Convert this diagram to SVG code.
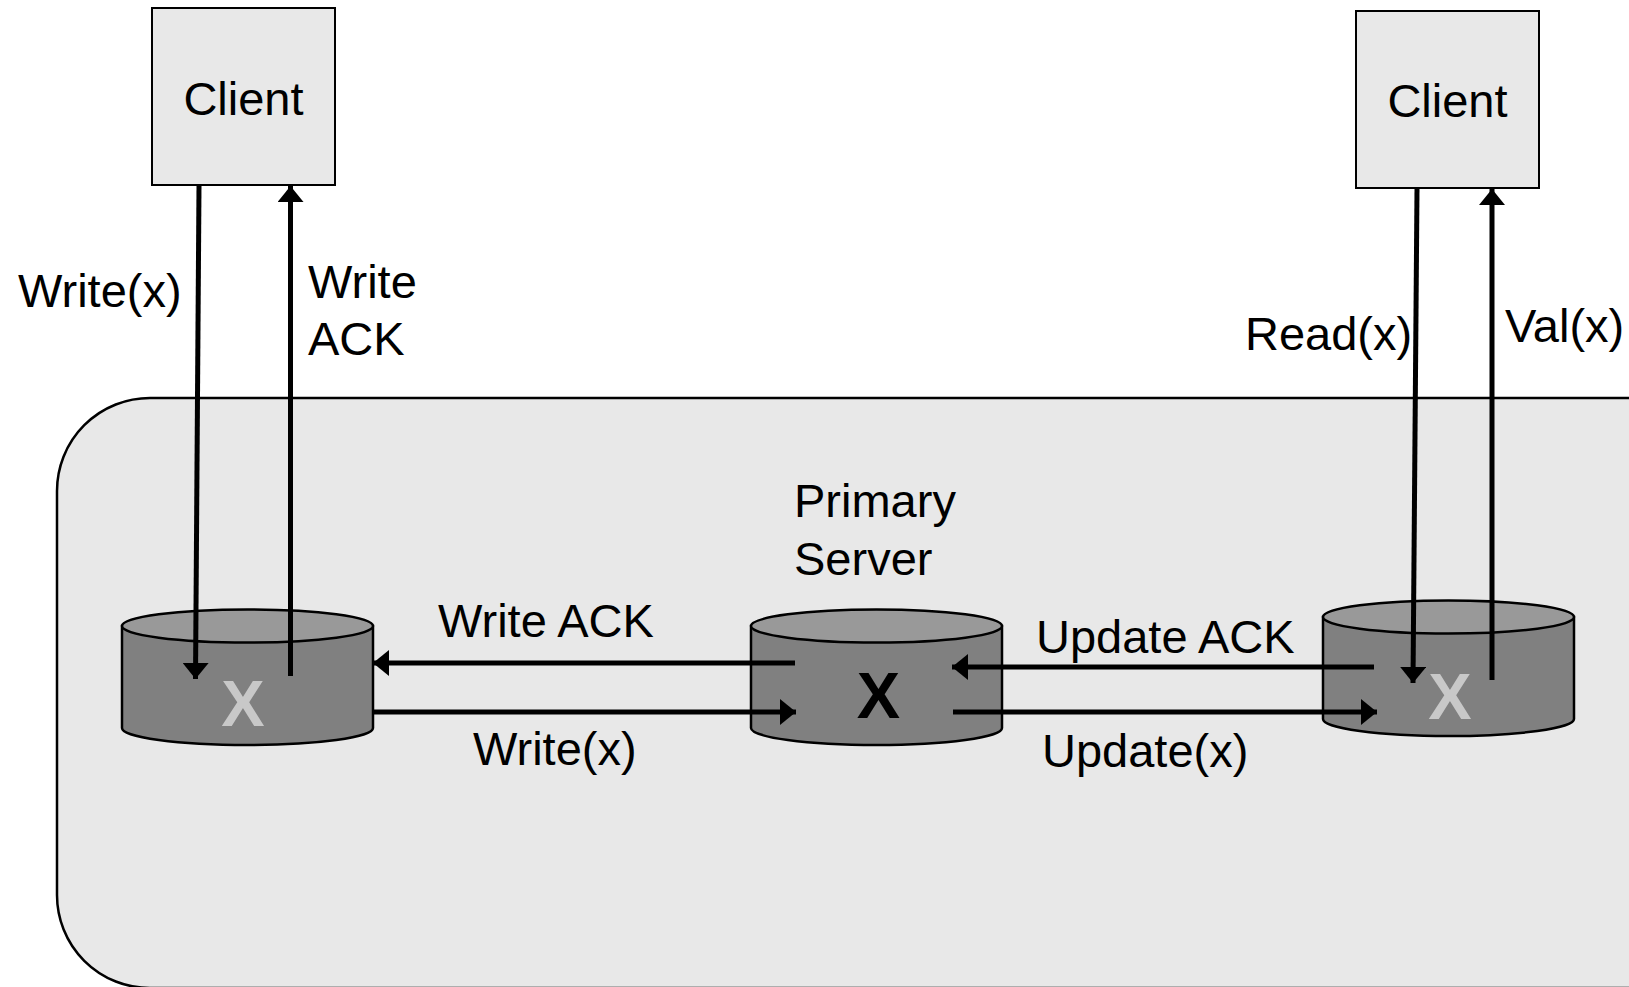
<svg xmlns="http://www.w3.org/2000/svg" width="1629" height="987" viewBox="0 0 1629 987">
  <style>
    .lbl { font-family: "Liberation Sans", Arial, sans-serif; font-size: 47px; fill: #000; }
    .client rect { fill: #e8e8e8; stroke: #000; stroke-width: 2; }
    .body { fill: #808080; stroke: #000; stroke-width: 2.5; }
    .lid { fill: #999999; stroke: #000; stroke-width: 2.5; }
    .val { font-family: "Liberation Sans", Arial, sans-serif; font-weight: bold; font-size: 65px; text-anchor: middle; }
    .conn line { stroke: #000; stroke-width: 5; }
  </style>
  <defs>
    <marker id="head" viewBox="0 0 16 26" refX="16" refY="13" markerWidth="16" markerHeight="26" markerUnits="userSpaceOnUse" orient="auto">
      <path d="M0,0 L16,13 L0,26 Z" fill="#000"/>
    </marker>
  </defs>

  <rect width="1629" height="987" fill="#fff"/>

  <!-- replica group container -->
  <g id="cluster">
    <rect x="57" y="398" width="1680" height="590" rx="93" ry="93" fill="#e8e8e8" stroke="#000" stroke-width="2.5"/>
  </g>

  <!-- clients -->
  <g id="client-left" class="client">
    <rect x="152" y="8" width="183" height="177"/>
    <text class="lbl" x="243.5" y="115" text-anchor="middle">Client</text>
  </g>
  <g id="client-right" class="client">
    <rect x="1356" y="11" width="183" height="177"/>
    <text class="lbl" x="1447.5" y="117" text-anchor="middle">Client</text>
  </g>

  <!-- replicas -->
  <g id="replica-left">
    <path class="body" d="M122,626 L122,728 A125.5,17 0 0 0 373,728 L373,626 Z"/>
    <ellipse class="lid" cx="247.5" cy="626" rx="125.5" ry="16.5"/>
    <text class="val" x="243" y="726" fill="#c8c8c8">X</text>
  </g>
  <g id="primary">
    <path class="body" d="M751,626 L751,728 A125.5,17 0 0 0 1002,728 L1002,626 Z"/>
    <ellipse class="lid" cx="876.5" cy="626" rx="125.5" ry="16.5"/>
    <text class="val" x="878.5" y="718" fill="#000">X</text>
    <text class="lbl" x="794" y="517">Primary</text>
    <text class="lbl" x="794" y="575">Server</text>
  </g>
  <g id="replica-right">
    <path class="body" d="M1323,617 L1323,719 A125.5,17 0 0 0 1574,719 L1574,617 Z"/>
    <ellipse class="lid" cx="1448.5" cy="617" rx="125.5" ry="16.5"/>
    <text class="val" x="1450" y="719" fill="#c8c8c8">X</text>
  </g>

  <!-- message connectors -->
  <g id="connectors" class="conn">
    <line x1="199" y1="186" x2="195.5" y2="679" marker-end="url(#head)"/>
    <line x1="290.5" y1="676" x2="290.5" y2="186" marker-end="url(#head)"/>
    <line x1="795" y1="663" x2="373" y2="663" marker-end="url(#head)"/>
    <line x1="373" y1="712" x2="796" y2="712" marker-end="url(#head)"/>
    <line x1="1374" y1="667" x2="952" y2="667" marker-end="url(#head)"/>
    <line x1="953" y1="712" x2="1377" y2="712" marker-end="url(#head)"/>
    <line x1="1417" y1="189" x2="1413" y2="683" marker-end="url(#head)"/>
    <line x1="1492" y1="680" x2="1492" y2="189" marker-end="url(#head)"/>
  </g>

  <!-- connector labels -->
  <g id="labels">
    <text class="lbl" x="18" y="307">Write(x)</text>
    <text class="lbl" x="308" y="298">Write</text>
    <text class="lbl" x="308" y="355">ACK</text>
    <text class="lbl" x="1245" y="350">Read(x)</text>
    <text class="lbl" x="1505" y="342">Val(x)</text>
    <text class="lbl" x="438" y="637">Write ACK</text>
    <text class="lbl" x="473" y="765">Write(x)</text>
    <text class="lbl" x="1036" y="653">Update ACK</text>
    <text class="lbl" x="1042" y="767">Update(x)</text>
  </g>
</svg>
